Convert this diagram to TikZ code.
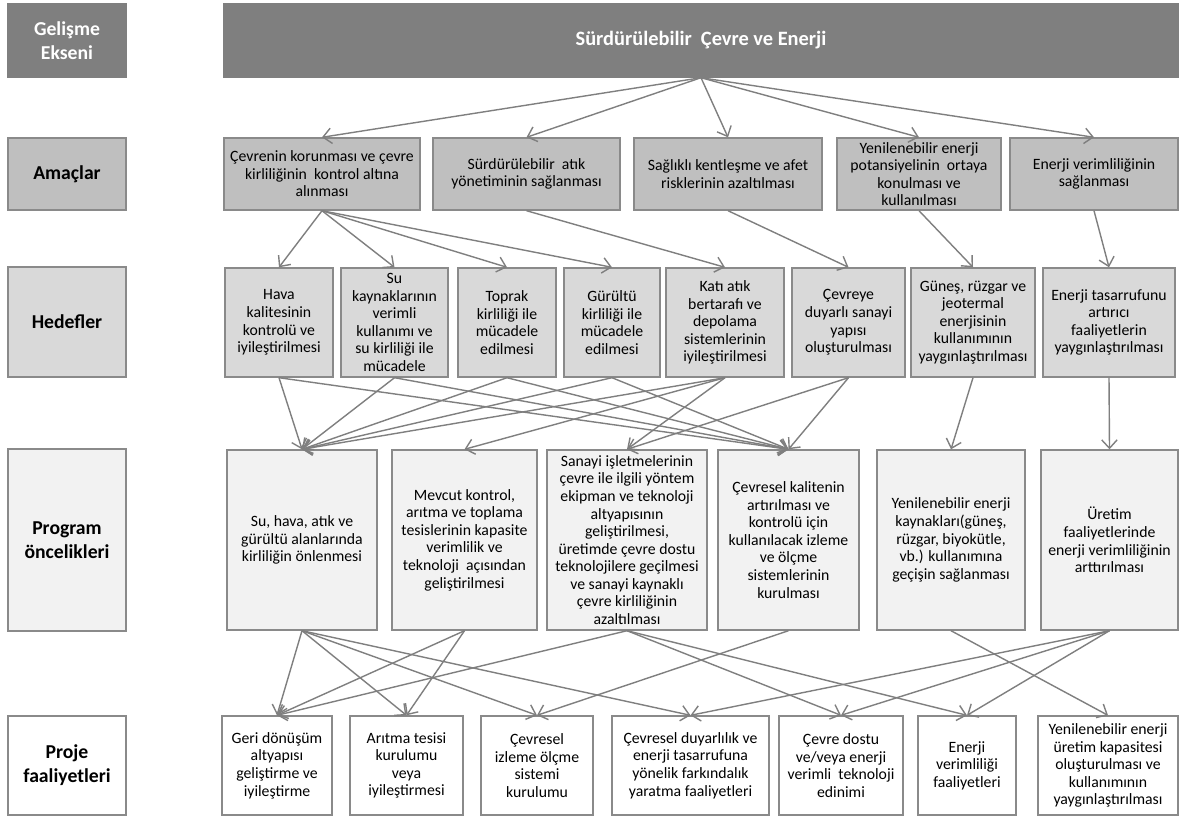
\documentclass[tikz,border=0pt]{standalone}
\usepackage{fontspec}
\setmainfont{Carlito}
\usetikzlibrary{arrows.meta}
\definecolor{axisgray}{HTML}{7F7F7F}
\definecolor{amacgray}{HTML}{BFBFBF}
\definecolor{hedefgray}{HTML}{D9D9D9}
\definecolor{proggray}{HTML}{F2F2F2}
\definecolor{edgegray}{HTML}{8A8A8A}

\begin{document}
\begin{tikzpicture}[x=0.025cm,y=-0.025cm,
  box/.style={draw=edgegray,line width=1pt,inner sep=0pt,align=center,
    font=\fontsize{11.2}{12.5}\selectfont},
  sz/.style 2 args={minimum width=#1*0.025cm,minimum height=#2*0.025cm},
  axisbox/.style={box,draw=axisgray,fill=axisgray,text=white,
    font=\fontsize{14}{17}\selectfont\bfseries},
  labelbox/.style={box,font=\fontsize{14}{17}\selectfont\bfseries},
  amac/.style={box,fill=amacgray},
  hedef/.style={box,fill=hedefgray},
  prog/.style={box,fill=proggray},
  proje/.style={box,fill=white},
  arr/.style={draw=axisgray,line width=1pt,-{Straight Barb[length=6pt,width=11pt]}}]
 \useasboundingbox (0,0) rectangle (1184,818);

 \node[axisbox,sz={118}{73}] (eksen) at (67,40.5) {Gelişme\\Ekseni};
 \node[labelbox,fill=amacgray,sz={118}{72}] (amaclar) at (67,174) {Amaçlar};
 \node[labelbox,fill=hedefgray,sz={118}{110}] (hedefler) at (67,322) {Hedefler};
 \node[labelbox,fill=proggray,sz={118}{182}] (oncelik) at (67,540) {Program\\öncelikleri};
 \node[labelbox,fill=white,sz={118}{99}] (faaliyet) at (67,765.5) {Proje\\faaliyetleri};

 \node[axisbox,font=\fontsize{14.5}{17}\selectfont\bfseries,sz={954}{73}] (m) at (701,40.5) {Sürdürülebilir\ \ Çevre ve Enerji};

 \node[amac,sz={196}{72}] (a1) at (322,174) {Çevrenin korunması ve çevre\\kirliliğinin\ \ kontrol altına\\alınması};
 \node[amac,sz={187}{72}] (a2) at (526.5,174) {Sürdürülebilir\ \ atık\\yönetiminin sağlanması};
 \node[amac,sz={188}{72}] (a3) at (728,174) {Sağlıklı kentleşme ve afet\\risklerinin azaltılması};
 \node[amac,sz={164}{72}] (a4) at (919,174) {Yenilenebilir enerji\\potansiyelinin\ \ ortaya\\konulması ve\\kullanılması};
 \node[amac,sz={168}{72}] (a5) at (1094,174) {Enerji verimliliğinin\\sağlanması};

 \node[hedef,sz={108}{109}] (h1) at (279,322.5) {Hava\\kalitesinin\\kontrolü ve\\iyileştirilmesi};
 \node[hedef,sz={107}{109}] (h2) at (394.5,322.5) {Su\\kaynaklarının\\verimli\\kullanımı ve\\su kirliliği ile\\mücadele};
 \node[hedef,sz={98}{109}] (h3) at (507,322.5) {Toprak\\kirliliği ile\\mücadele\\edilmesi};
 \node[hedef,sz={96}{109}] (h4) at (612,322.5) {Gürültü\\kirliliği ile\\mücadele\\edilmesi};
 \node[hedef,sz={118}{109}] (h5) at (725,322.5) {Katı atık\\bertarafı ve\\depolama\\sistemlerinin\\iyileştirilmesi};
 \node[hedef,sz={113}{109}] (h6) at (848.5,322.5) {Çevreye\\duyarlı sanayi\\yapısı\\oluşturulması};
 \node[hedef,sz={124}{109}] (h7) at (973,322.5) {Güneş, rüzgar ve\\jeotermal\\enerjisinin\\kullanımının\\yaygınlaştırılması};
 \node[hedef,sz={132}{109}] (h8) at (1109,322.5) {Enerji tasarrufunu\\artırıcı\\faaliyetlerin\\yaygınlaştırılması};

 \node[prog,sz={150}{180}] (p1) at (302,540) {Su, hava, atık ve\\gürültü alanlarında\\kirliliğin önlenmesi};
 \node[prog,sz={145}{180}] (p2) at (464.5,540) {Mevcut kontrol,\\arıtma ve toplama\\tesislerinin kapasite\\verimlilik ve\\teknoloji\ \ açısından\\geliştirilmesi};
 \node[prog,sz={160}{180}] (p3) at (627,540) {Sanayi işletmelerinin\\çevre ile ilgili yöntem\\ekipman ve teknoloji\\altyapısının\\geliştirilmesi,\\üretimde çevre dostu\\teknolojilere geçilmesi\\ve sanayi kaynaklı\\çevre kirliliğinin\\azaltılması};
 \node[prog,sz={141}{180}] (p4) at (788.5,540) {Çevresel kalitenin\\artırılması ve\\kontrolü için\\kullanılacak izleme\\ve ölçme\\sistemlerinin\\kurulması};
 \node[prog,sz={148}{180}] (p5) at (951,540) {Yenilenebilir enerji\\kaynakları(güneş,\\rüzgar, biyokütle,\\vb.) kullanımına\\geçişin sağlanması};
 \node[prog,sz={137}{180}] (p6) at (1109.5,540) {Üretim\\faaliyetlerinde\\enerji verimliliğinin\\arttırılması};

 \node[proje,sz={110}{99}] (j1) at (277,765.5) {Geri dönüşüm\\altyapısı\\geliştirme ve\\iyileştirme};
 \node[proje,sz={113}{99}] (j2) at (406.5,765.5) {Arıtma tesisi\\kurulumu\\veya\\iyileştirmesi};
 \node[proje,sz={112}{99}] (j3) at (537,765.5) {Çevresel\\izleme ölçme\\sistemi\\kurulumu};
 \node[proje,sz={157}{99}] (j4) at (690.5,765.5) {Çevresel duyarlılık ve\\enerji tasarrufuna\\yönelik farkındalık\\yaratma faaliyetleri};
 \node[proje,sz={124}{99}] (j5) at (841,765.5) {Çevre dostu\\ve/veya enerji\\verimli\ \ teknoloji\\edinimi};
 \node[proje,sz={98}{99}] (j6) at (967,765.5) {Enerji\\verimliliği\\faaliyetleri};
 \node[proje,sz={140}{99}] (j7) at (1108,765.5) {Yenilenebilir enerji\\üretim kapasitesi\\oluşturulması ve\\kullanımının\\yaygınlaştırılması};

 \draw[arr] (m.south) -- (a1.north);
 \draw[arr] (m.south) -- (a2.north);
 \draw[arr] (m.south) -- (a3.north);
 \draw[arr] (m.south) -- (a4.north);
 \draw[arr] (m.south) -- (a5.north);

 \draw[arr] (a1.south) -- (h1.north);
 \draw[arr] (a1.south) -- (h2.north);
 \draw[arr] (a1.south) -- (h3.north);
 \draw[arr] (a1.south) -- (h4.north);
 \draw[arr] (a2.south) -- (h5.north);
 \draw[arr] (a3.south) -- (h6.north);
 \draw[arr] (a4.south) -- (h7.north);
 \draw[arr] (a5.south) -- (h8.north);

 \draw[arr] (h1.south) -- (p1.north);
 \draw[arr] (h1.south) -- (p4.north);
 \draw[arr] (h2.south) -- (p1.north);
 \draw[arr] (h2.south) -- (p4.north);
 \draw[arr] (h3.south) -- (p1.north);
 \draw[arr] (h3.south) -- (p4.north);
 \draw[arr] (h4.south) -- (p1.north);
 \draw[arr] (h4.south) -- (p4.north);
 \draw[arr] (h5.south) -- (p1.north);
 \draw[arr] (h5.south) -- (p2.north);
 \draw[arr] (h5.south) -- (p3.north);
 \draw[arr] (h6.south) -- (p3.north);
 \draw[arr] (h6.south) -- (p4.north);
 \draw[arr] (h7.south) -- (p5.north);
 \draw[arr] (h8.south) -- (p6.north);

 \draw[arr] (p1.south) -- (j1.north);
 \draw[arr] (p1.south) -- (j2.north);
 \draw[arr] (p1.south) -- (j3.north);
 \draw[arr] (p1.south) -- (j4.north);
 \draw[arr] (p2.south) -- (j1.north);
 \draw[arr] (p2.south) -- (j2.north);
 \draw[arr] (p3.south) -- (j1.north);
 \draw[arr] (p3.south) -- (j5.north);
 \draw[arr] (p3.south) -- (j6.north);
 \draw[arr] (p4.south) -- (j3.north);
 \draw[arr] (p5.south) -- (j7.north);
 \draw[arr] (p6.south) -- (j4.north);
 \draw[arr] (p6.south) -- (j5.north);
 \draw[arr] (p6.south) -- (j6.north);
\end{tikzpicture}
\end{document}
